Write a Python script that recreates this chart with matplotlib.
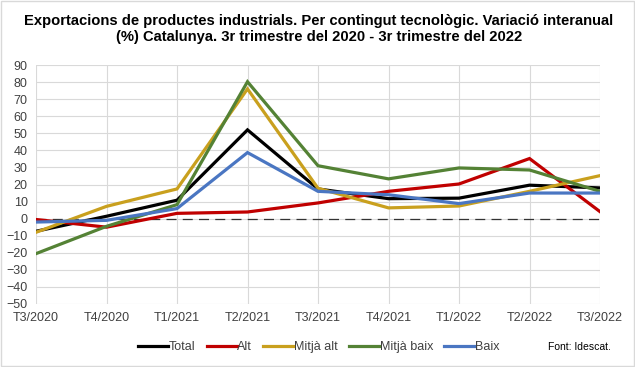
import matplotlib
matplotlib.use("Agg")
import matplotlib.pyplot as plt
from matplotlib.patches import Rectangle

categories = ["T3/2020", "T4/2020", "T1/2021", "T2/2021", "T3/2021",
              "T4/2021", "T1/2022", "T2/2022", "T3/2022"]
total = [-7.4, 1.4, 10.8, 52.0, 17.4, 11.7, 12.0, 19.6, 18.0]
alt = [-0.5, -5.0, 3.1, 3.9, 9.2, 16.0, 20.3, 35.2, 4.1]
mitja_alt = [-8.0, 7.2, 17.4, 76.0, 17.8, 6.3, 7.4, 16.0, 25.2]
mitja_baix = [-20.5, -4.5, 8.2, 80.2, 31.0, 23.3, 29.7, 28.5, 16.0]
baix = [-2.0, -1.0, 5.9, 38.7, 16.0, 14.0, 8.8, 15.0, 15.0]

series = [("Total", total, "#000000"),
          ("Alt", alt, "#C00000"),
          ("Mitjà alt", mitja_alt, "#C9A01E"),
          ("Mitjà baix", mitja_baix, "#548235"),
          ("Baix", baix, "#4A76C2")]

plt.rcParams['font.family'] = ['Liberation Sans', 'DejaVu Sans']

fig = plt.figure(figsize=(6.35, 3.67), dpi=100)
ax = fig.add_axes([36/635, 1-304/367, (600-36)/635, (304-65)/367])

x = list(range(len(categories)))
for name, vals, col in series:
    ax.plot(x, vals, color=col, lw=2.3, label=name, solid_joinstyle='miter', zorder=3)

ax.axhline(0, color='#333333', lw=0.9, ls=(0, (8, 5)), zorder=2)

ax.set_xlim(0, len(categories)-1)
ax.set_ylim(-50, 90)
ax.set_yticks(range(-50, 91, 10))
ax.set_xticks(x)
ax.set_xticklabels(categories)
ax.grid(True, color='#D9D9D9', lw=0.8, zorder=0)
for s in ax.spines.values():
    s.set_visible(False)
ax.tick_params(axis='both', length=0, labelsize=9, colors='#404040', pad=6)
ax.tick_params(axis='x', pad=6)

fig.text(0.502, 0.962, "Exportacions de productes industrials. Per contingut tecnològic. Variació interanual\n(%) Catalunya. 3r trimestre del 2020 - 3r trimestre del 2022",
         ha='center', va='top', fontsize=10.6, fontweight='bold', linespacing=1.2)

leg = fig.legend(loc='center', bbox_to_anchor=(0.502, 1-347/367), ncol=5, frameon=False,
                 fontsize=9, handlelength=2.4, handletextpad=0.05, columnspacing=0.9)
for t in leg.get_texts():
    t.set_color('#404040')

fig.text(0.962, 1-347/367, "Font: Idescat.", ha='right', va='center', fontsize=7.5)

fig.patches.append(Rectangle((0.002, 0.003), 0.996, 0.994, transform=fig.transFigure,
                             fill=False, edgecolor='#D9D9D9', lw=1))

fig.savefig("out.png", dpi=100)
